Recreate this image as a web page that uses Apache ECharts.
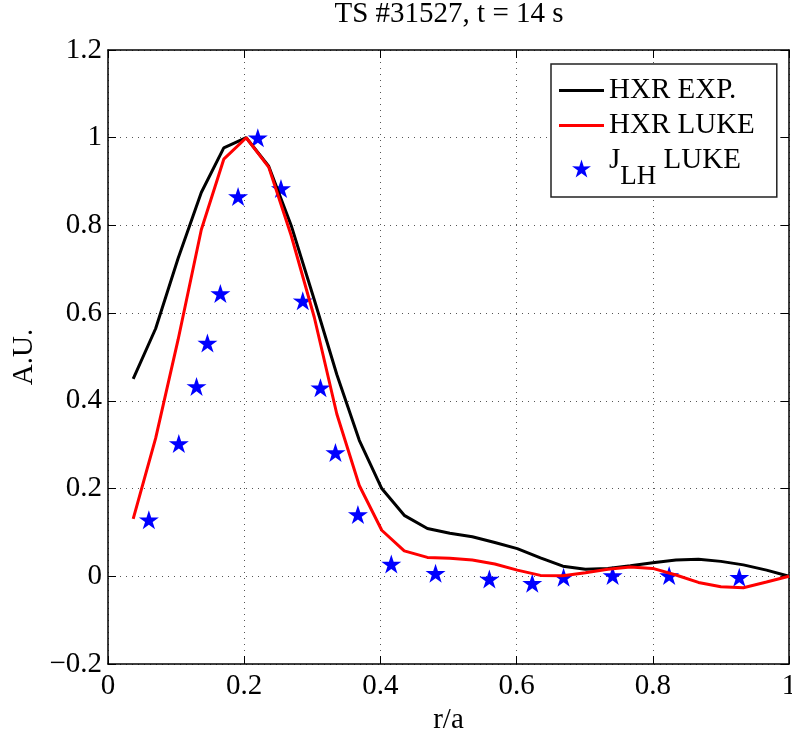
<!DOCTYPE html>
<html>
<head>
<meta charset="utf-8">
<script src="https://cdn.jsdelivr.net/npm/echarts@6/dist/echarts.min.js"></script>
<style>
  html, body { margin: 0; padding: 0; background: #fff; }
  #main { width: 792px; height: 731px; }
</style>
</head>
<body>
<div id="main"></div>
<script>
// r/a sample points of the profiles
const rProfile = [0.037, 0.070, 0.103, 0.137, 0.170, 0.203, 0.236, 0.269, 0.303, 0.336,
                  0.369, 0.402, 0.435, 0.469, 0.502, 0.535, 0.568, 0.601, 0.635, 0.668,
                  0.701, 0.734, 0.767, 0.800, 0.834, 0.867, 0.900, 0.933, 0.967, 1.0];
const hxrExp = [0.45, 0.565, 0.725, 0.875, 0.977, 1.0, 0.935, 0.80, 0.63, 0.46,
                0.31, 0.20, 0.139, 0.109, 0.098, 0.090, 0.077, 0.063, 0.042, 0.023,
                0.016, 0.018, 0.024, 0.031, 0.037, 0.039, 0.034, 0.026, 0.014, 0.0];
const hxrLuke = [0.131, 0.315, 0.54, 0.79, 0.951, 1.0, 0.933, 0.777, 0.59, 0.37,
                 0.207, 0.105, 0.058, 0.043, 0.041, 0.037, 0.028, 0.014, 0.002, 0.001,
                 0.008, 0.016, 0.021, 0.018, 0.003, -0.014, -0.024, -0.026, -0.013, 0.0];
// J_LH LUKE markers
const rJlh = [0.060, 0.104, 0.130, 0.146, 0.165, 0.191, 0.220, 0.254, 0.286, 0.312,
              0.334, 0.367, 0.416, 0.481, 0.560, 0.623, 0.669, 0.741, 0.824, 0.927];
const jlhLuke = [0.129, 0.303, 0.433, 0.532, 0.645, 0.866, 1.0, 0.884, 0.628, 0.430,
                 0.282, 0.141, 0.028, 0.007, -0.006, -0.016, -0.002, 0.002, 0.002, -0.002];

const font = 'Liberation Serif, Times New Roman, serif';
const star = 'path://M50,0 L61.2,34.6 L97.6,34.5 L68.1,55.9 L79.4,90.5 L50,69 L20.6,90.5 L31.9,55.9 L2.4,34.5 L38.8,34.6 Z';
const bar = 'path://M0,0 L45,0 L45,3 L0,3 Z';
const fmt = v => String(Math.round(v * 10) / 10).replace('-', '\u2212');

const chart = echarts.init(document.getElementById('main'), null, { renderer: 'canvas' });

const zip = (xs, ys) => xs.map((x, i) => [x, ys[i]]);

const frameAxis = {
    axisLine: { onZero: false, lineStyle: { color: '#000', width: 1.5 } },
    axisTick: { inside: true, length: 8, lineStyle: { color: '#000' } }
};

const option = {
    animation: false,
    backgroundColor: '#fff',
    title: {
        text: 'TS #31527, t = 14 s',
        left: 449,
        top: 0,
        textAlign: 'center',
        padding: 0,
        textStyle: { fontFamily: font, fontSize: 29, fontWeight: 'normal', color: '#000' }
    },
    grid: { left: 108, right: 3, top: 50, bottom: 67, outerBoundsMode: 'none', containLabel: false },
    legend: {
        orient: 'vertical',
        left: 551,
        top: 64,
        padding: [12, 22, 6, 8],
        itemGap: 6,
        itemWidth: 45,
        itemHeight: 18,
        symbolKeepAspect: true,
        backgroundColor: '#fff',
        borderColor: '#222',
        borderWidth: 1.5,
        borderRadius: 0,
        textStyle: {
            fontFamily: font, fontSize: 29, color: '#000',
            rich: {
                a: { fontFamily: font, fontSize: 29, lineHeight: 30, padding: [0, 0, 16, 0] },
                sub: { fontFamily: font, fontSize: 27, lineHeight: 30, padding: [16, 0, 0, 0] }
            }
        },
        formatter: name => name === 'JLH LUKE' ? '{a|J}{sub|LH}{a| LUKE}' : name,
        data: [
            { name: 'HXR EXP.', icon: bar },
            { name: 'HXR LUKE', icon: bar },
            { name: 'JLH LUKE', icon: star }
        ]
    },
    xAxis: [Object.assign({
        type: 'value', min: 0, max: 1, interval: 0.2,
        name: 'r/a', nameLocation: 'middle', nameGap: 36,
        nameTextStyle: { fontFamily: font, fontSize: 29, color: '#000' },
        axisLabel: { fontFamily: font, fontSize: 29, color: '#000', margin: 8, formatter: fmt },
        splitLine: { show: true, lineStyle: { color: '#555', type: [1, 5], width: 1 } }
    }, frameAxis), Object.assign({
        type: 'value', min: 0, max: 1, interval: 0.2, position: 'top',
        axisLabel: { show: false },
        splitLine: { show: false }
    }, frameAxis)],
    yAxis: [Object.assign({
        type: 'value', min: -0.2, max: 1.2, interval: 0.2,
        name: 'A.U.', nameLocation: 'middle', nameGap: 64,
        nameTextStyle: { fontFamily: font, fontSize: 29, color: '#000' },
        axisLabel: { fontFamily: font, fontSize: 29, color: '#000', margin: 6, formatter: fmt },
        splitLine: { show: true, lineStyle: { color: '#555', type: [1, 5], width: 1 } }
    }, frameAxis), Object.assign({
        type: 'value', min: -0.2, max: 1.2, interval: 0.2, position: 'right',
        axisLabel: { show: false },
        splitLine: { show: false }
    }, frameAxis)],
    series: [
        {
            name: 'HXR EXP.', type: 'line', symbol: 'none',
            lineStyle: { color: '#000', width: 3 }, itemStyle: { color: '#000' },
            data: zip(rProfile, hxrExp)
        },
        {
            name: 'HXR LUKE', type: 'line', symbol: 'none',
            lineStyle: { color: '#ff0000', width: 3 }, itemStyle: { color: '#ff0000' },
            data: zip(rProfile, hxrLuke)
        },
        {
            name: 'JLH LUKE', type: 'scatter', symbol: star, symbolSize: 20, symbolKeepAspect: true,
            itemStyle: { color: '#0000ff', opacity: 1 },
            data: zip(rJlh, jlhLuke)
        }
    ]
};

chart.setOption(option);
</script>
</body>
</html>
